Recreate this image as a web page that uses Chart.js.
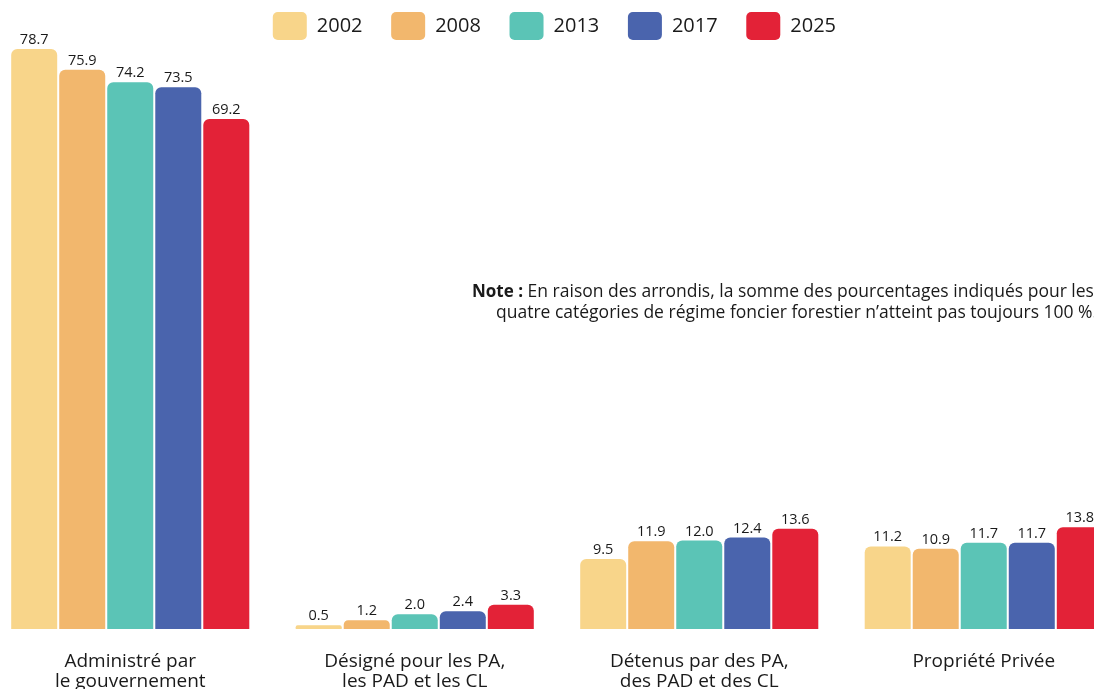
<!DOCTYPE html>
<html>
<head>
<meta charset="utf-8">
<script src="https://cdn.jsdelivr.net/npm/chart.js@4.4.1/dist/chart.umd.min.js"></script>
<style>
  html, body { margin: 0; padding: 0; background: #fff; overflow: hidden; width: 1094px; height: 689px; }
  #wrap { position: absolute; left: -12px; top: 0; width: 1138px; height: 715px; }
</style>
</head>
<body>
<div id="wrap"><canvas id="chart"></canvas></div>
<script>
const categories = [
  ['Administré par', 'le gouvernement'],
  ['Désigné pour les PA,', 'les PAD et les CL'],
  ['Détenus par des PA,', 'des PAD et des CL'],
  'Propriété Privée'
];
const years = ['2002', '2008', '2013', '2017', '2025'];
const values2002 = [78.7, 0.5, 9.5, 11.2];
const values2008 = [75.9, 1.2, 11.9, 10.9];
const values2013 = [74.2, 2.0, 12.0, 11.7];
const values2017 = [73.5, 2.4, 12.4, 11.7];
const values2025 = [69.2, 3.3, 13.6, 13.8];
const colors = ['#F8D58A', '#F2B76D', '#5BC4B6', '#4A64AD', '#E32237'];
const noteBold = 'Note :';
const noteLine1 = ' En raison des arrondis, la somme des pourcentages indiqués pour les';
const noteLine2 = 'quatre catégories de régime foncier forestier n’atteint pas toujours 100 %.';

const FONT = '"Open Sans", "Noto Sans", sans-serif';
const TEXT = '#1a1a1a';

const allValues = [values2002, values2008, values2013, values2017, values2025];
const datasets = years.map((y, i) => ({
  label: y,
  data: allValues[i],
  backgroundColor: colors[i],
  borderWidth: 0,
  borderRadius: 6,
  barPercentage: 0.958,
  categoryPercentage: 0.844,
  clip: false
}));

// value labels above each bar
const barLabels = {
  id: 'barLabels',
  afterDatasetsDraw(chart) {
    const ctx = chart.ctx;
    ctx.save();
    ctx.font = '14.5px ' + FONT;
    ctx.fillStyle = TEXT;
    ctx.textAlign = 'center';
    ctx.textBaseline = 'alphabetic';
    chart.data.datasets.forEach((ds, i) => {
      chart.getDatasetMeta(i).data.forEach((bar, j) => {
        ctx.fillText(ds.data[j].toFixed(1), bar.x, bar.y - 5);
      });
    });
    ctx.restore();
  }
};

// note in the middle of the chart
const noteText = {
  id: 'noteText',
  afterDraw(chart) {
    const ctx = chart.ctx;
    ctx.save();
    ctx.fillStyle = TEXT;
    ctx.textBaseline = 'middle';
    ctx.textAlign = 'left';
    const x1 = 484, y1 = 292;
    ctx.font = 'bold 17px ' + FONT;
    ctx.fillText(noteBold, x1, y1);
    const w = ctx.measureText(noteBold).width;
    ctx.font = '17.5px ' + FONT;
    ctx.fillText(noteLine1, x1 + w, y1);
    ctx.fillText(noteLine2, 508, y1 + 21);
    ctx.restore();
  }
};

const ctx = document.getElementById('chart');
const chart = new Chart(ctx, {
  type: 'bar',
  data: {
    labels: categories,
    datasets: datasets
  },
  options: {
    responsive: true,
    maintainAspectRatio: false,
    animation: false,
    layout: { padding: 0 },
    plugins: {
      tooltip: { enabled: false },
      legend: {
        position: 'top',
        labels: {
          boxWidth: 34,
          boxHeight: 28,
          useBorderRadius: true,
          borderRadius: 5,
          padding: 12,
          color: TEXT,
          font: { family: FONT, size: 20 },
          generateLabels(chart) {
            const items = Chart.defaults.plugins.legend.labels.generateLabels(chart);
            items.forEach((it, i) => {
              it.text = it.text + (i < items.length - 1 ? '\u2007 ' : ' ');
              it.lineWidth = 0;
            });
            return items;
          }
        }
      }
    },
    scales: {
      x: {
        grid: { display: false, drawTicks: false },
        border: { display: false },
        ticks: {
          color: TEXT,
          font: { family: FONT, size: 19, lineHeight: 1.053 },
          padding: 23,
          maxRotation: 0,
          autoSkip: false
        }
      },
      y: {
        display: false,
        min: 0,
        max: 78.57
      }
    }
  },
  plugins: [barLabels, noteText]
});
</script>
</body>
</html>
